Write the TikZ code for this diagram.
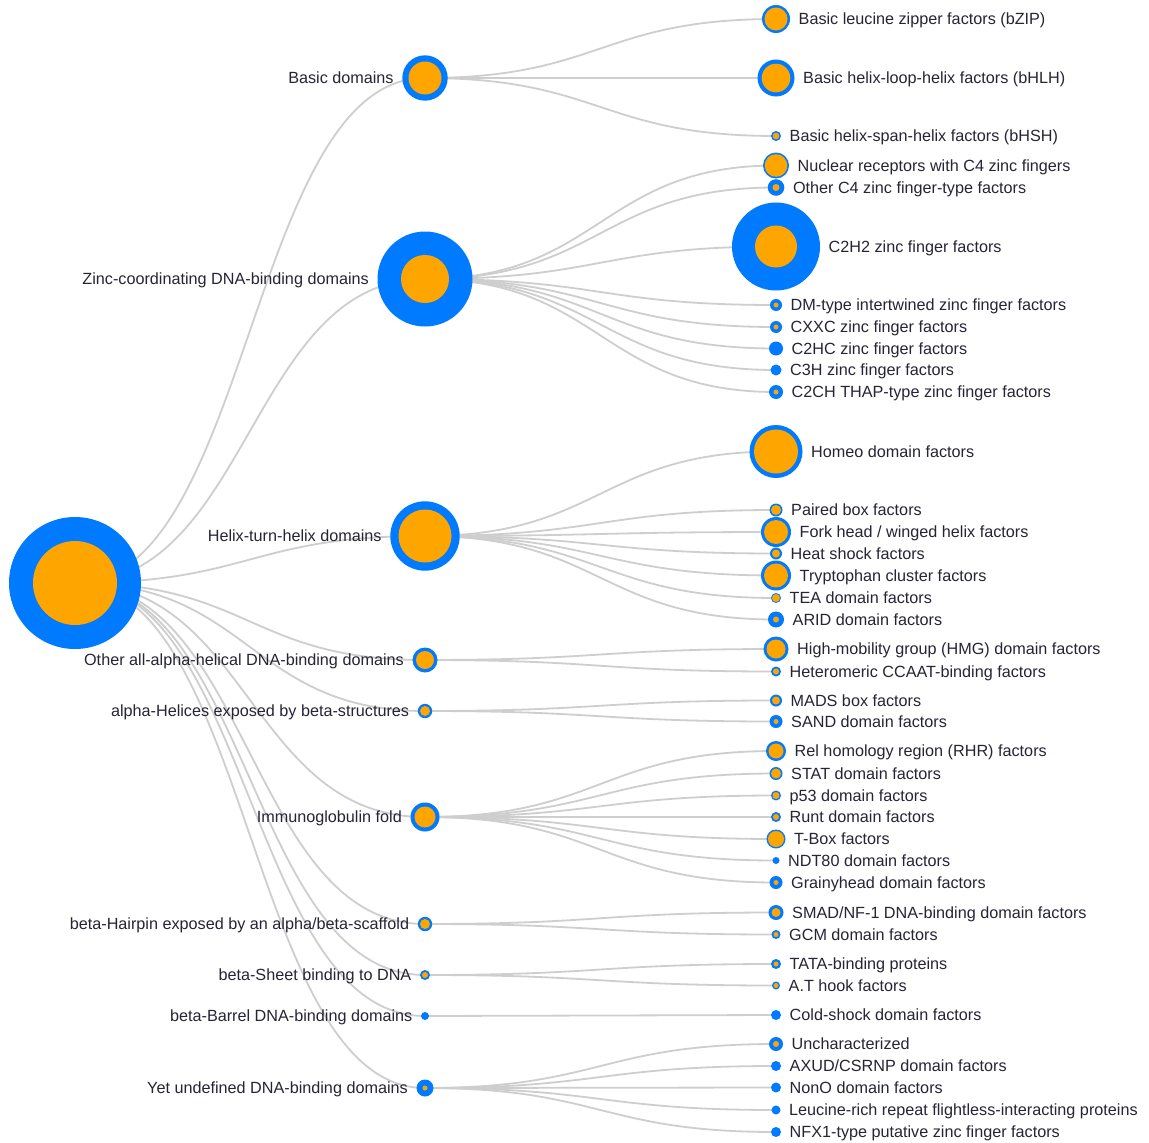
\documentclass[tikz,border=0pt]{standalone}
\usepackage{fontspec}
\setmainfont{Liberation Sans}
\usetikzlibrary{calc,backgrounds}
\definecolor{nblue}{RGB}{0,122,255}
\definecolor{norange}{RGB}{255,165,0}
\definecolor{lnk}{RGB}{206,206,206}
\definecolor{txt}{RGB}{40,36,52}
\tikzset{
  link/.style={draw=lnk,line width=1.8pt},
  lbl/.style={font=\fontsize{16.2}{18}\selectfont,text=txt,inner sep=0pt,text height=11.7pt,text depth=0pt},
  dot/.style={circle,fill=nblue,inner sep=0pt,outer sep=0pt}
}
\newcommand\tn[5]{%
  \node[dot,minimum size={2*#4pt}] (#1) at (#2,#3) {};
  \ifdim #5pt>0pt \fill[norange] (#1.center) circle (#5pt);\fi}
\newcommand\rlab[2]{\node[lbl,anchor=west] (#1-t) at ([xshift=8.5pt]#1.east) {#2};}
\newcommand\llab[2]{\node[lbl,anchor=east] (#1-t) at ([xshift=-8.5pt]#1.west) {#2};}
\newcommand\lk[2]{\draw[link] let \p1=(#1.center),\p2=(#2.center) in (\p1) .. controls ({(\x1+\x2)/2},\y1) and ({(\x1+\x2)/2},\y2) .. (\p2);}
\begin{document}
\begin{tikzpicture}[x=1pt,y=-1pt]
\useasboundingbox (0,0) rectangle (1149,1143);
% root
\tn{root}{75}{583}{66}{42}
% level 1
\tn{basic}{425}{78}{22.7}{16.5}
\tn{zinc}{425}{279}{47.5}{24}
\tn{hth}{425}{536}{34.7}{26.5}
\tn{oalpha}{425}{660}{12.5}{9}
\tn{ahel}{425}{711}{7.2}{5}
\tn{immuno}{425}{817}{14.5}{10.5}
\tn{hairpin}{425}{924}{7.2}{5}
\tn{sheet}{425}{975}{5}{3}
\tn{barrel}{425}{1016}{4}{0}
\tn{undef}{425}{1088}{8.5}{2.5}
\llab{basic}{Basic domains}
\llab{zinc}{Zinc-coordinating DNA-binding domains}
\llab{hth}{Helix-turn-helix domains}
\llab{oalpha}{Other all-alpha-helical DNA-binding domains}
\llab{ahel}{alpha-Helices exposed by beta-structures}
\llab{immuno}{Immunoglobulin fold}
\llab{hairpin}{beta-Hairpin exposed by an alpha/beta-scaffold}
\llab{sheet}{beta-Sheet binding to DNA}
\llab{barrel}{beta-Barrel DNA-binding domains}
\llab{undef}{Yet undefined DNA-binding domains}
% level 2
\tn{bzip}{776}{19}{14}{11.5}
\tn{bhlh}{776}{78}{18.5}{14.3}
\tn{bhsh}{776}{136}{5}{3.3}
\tn{nucl}{776}{165.5}{13}{11.3}
\tn{oc4}{776}{187.5}{8.3}{3.5}
\tn{c2h2}{776}{246.5}{44}{21}
\tn{dm}{776}{305}{6}{2.5}
\tn{cxxc}{776}{327}{6}{2.5}
\tn{c2hc}{776}{348.5}{7}{0}
\tn{c3h}{776}{370}{5.5}{0}
\tn{c2ch}{776}{392}{7}{2.5}
\tn{homeo}{776}{451.5}{26.5}{22}
\tn{paired}{776}{510}{6.5}{5}
\tn{fork}{776}{532}{15}{12}
\tn{heat}{776}{553.5}{6}{4}
\tn{tryp}{776}{575.5}{15}{12}
\tn{tea}{776}{598}{5}{4}
\tn{arid}{776}{619.5}{8}{3}
\tn{hmg}{776}{649}{12.5}{9.5}
\tn{ccaat}{776}{671.5}{5}{3}
\tn{mads}{776}{700.5}{6}{4}
\tn{sand}{776}{721.5}{6.5}{2.5}
\tn{rel}{776}{751}{10}{7.5}
\tn{stat}{776}{773.5}{6.5}{5}
\tn{p53}{776}{795.5}{5}{3.5}
\tn{runt}{776}{817}{5}{3}
\tn{tbox}{776}{839}{9.5}{8}
\tn{ndt}{776}{860.5}{3.5}{0}
\tn{grainy}{776}{882.5}{6.5}{2.5}
\tn{smad}{776}{912.5}{7.5}{4.5}
\tn{gcm}{776}{934.5}{4.5}{2.5}
\tn{tata}{776}{964}{5}{2.5}
\tn{athook}{776}{985.5}{4}{2.5}
\tn{cold}{776}{1015}{5}{0}
\tn{unch}{776}{1044}{7}{3}
\tn{axud}{776}{1066}{5}{0}
\tn{nono}{776}{1087.5}{5}{0}
\tn{lrr}{776}{1110}{4.5}{0}
\tn{nfx}{776}{1132}{5}{0}
\rlab{bzip}{Basic leucine zipper factors (bZIP)}
\rlab{bhlh}{Basic helix-loop-helix factors (bHLH)}
\rlab{bhsh}{Basic helix-span-helix factors (bHSH)}
\rlab{nucl}{Nuclear receptors with C4 zinc fingers}
\rlab{oc4}{Other C4 zinc finger-type factors}
\rlab{c2h2}{C2H2 zinc finger factors}
\rlab{dm}{DM-type intertwined zinc finger factors}
\rlab{cxxc}{CXXC zinc finger factors}
\rlab{c2hc}{C2HC zinc finger factors}
\rlab{c3h}{C3H zinc finger factors}
\rlab{c2ch}{C2CH THAP-type zinc finger factors}
\rlab{homeo}{Homeo domain factors}
\rlab{paired}{Paired box factors}
\rlab{fork}{Fork head / winged helix factors}
\rlab{heat}{Heat shock factors}
\rlab{tryp}{Tryptophan cluster factors}
\rlab{tea}{TEA domain factors}
\rlab{arid}{ARID domain factors}
\rlab{hmg}{High-mobility group (HMG) domain factors}
\rlab{ccaat}{Heteromeric CCAAT-binding factors}
\rlab{mads}{MADS box factors}
\rlab{sand}{SAND domain factors}
\rlab{rel}{Rel homology region (RHR) factors}
\rlab{stat}{STAT domain factors}
\rlab{p53}{p53 domain factors}
\rlab{runt}{Runt domain factors}
\rlab{tbox}{T-Box factors}
\rlab{ndt}{NDT80 domain factors}
\rlab{grainy}{Grainyhead domain factors}
\rlab{smad}{SMAD/NF-1 DNA-binding domain factors}
\rlab{gcm}{GCM domain factors}
\rlab{tata}{TATA-binding proteins}
\rlab{athook}{A.T hook factors}
\rlab{cold}{Cold-shock domain factors}
\rlab{unch}{Uncharacterized}
\rlab{axud}{AXUD/CSRNP domain factors}
\rlab{nono}{NonO domain factors}
\rlab{lrr}{Leucine-rich repeat flightless-interacting proteins}
\rlab{nfx}{NFX1-type putative zinc finger factors}
\begin{pgfonlayer}{background}
\fill[white] (0,0) rectangle (1149,1143);
\foreach \c in {basic,zinc,hth,oalpha,ahel,immuno,hairpin,sheet,barrel,undef} {\lk{root}{\c}}
\foreach \c in {bzip,bhlh,bhsh} {\lk{basic}{\c}}
\foreach \c in {nucl,oc4,c2h2,dm,cxxc,c2hc,c3h,c2ch} {\lk{zinc}{\c}}
\foreach \c in {homeo,paired,fork,heat,tryp,tea,arid} {\lk{hth}{\c}}
\foreach \c in {hmg,ccaat} {\lk{oalpha}{\c}}
\foreach \c in {mads,sand} {\lk{ahel}{\c}}
\foreach \c in {rel,stat,p53,runt,tbox,ndt,grainy} {\lk{immuno}{\c}}
\foreach \c in {smad,gcm} {\lk{hairpin}{\c}}
\foreach \c in {tata,athook} {\lk{sheet}{\c}}
\foreach \c in {cold} {\lk{barrel}{\c}}
\foreach \c in {unch,axud,nono,lrr,nfx} {\lk{undef}{\c}}
\end{pgfonlayer}
\end{tikzpicture}
\end{document}
